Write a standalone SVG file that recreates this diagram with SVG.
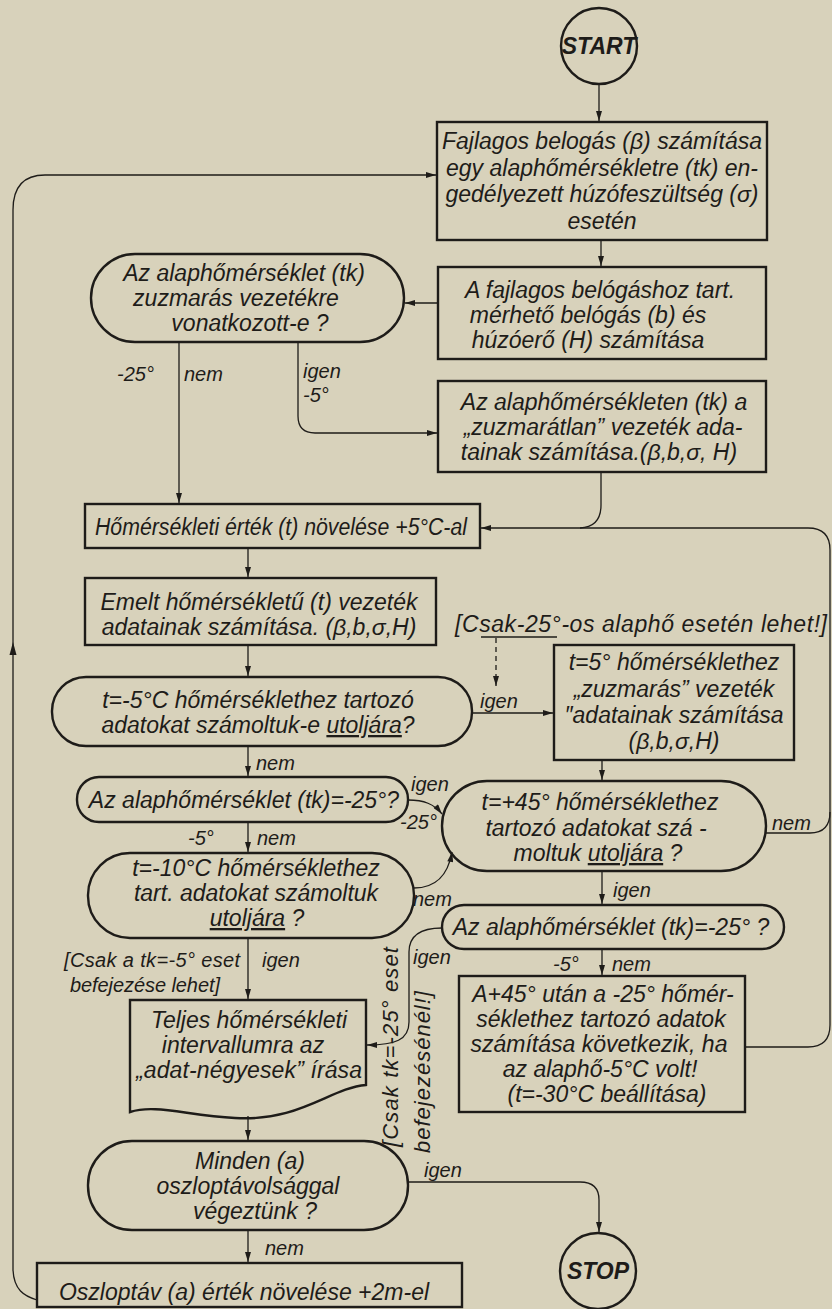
<svg xmlns="http://www.w3.org/2000/svg" width="832" height="1309" viewBox="0 0 832 1309">
<style>
.n{fill:none;stroke:#1e1c19;stroke-width:2.4}
.c{fill:none;stroke:#1e1c19;stroke-width:1.3}
.d{fill:none;stroke:#1e1c19;stroke-width:1.3;stroke-dasharray:5 4}
text{font-family:"Liberation Sans",Arial,sans-serif;font-style:italic;fill:#1e1c19}
.t{font-size:23px;text-anchor:middle}
.l{font-size:20px}
.r{font-size:22px;text-anchor:middle}
.b{font-size:23px;font-weight:bold;text-anchor:middle}
.u{text-decoration:underline}
</style>
<defs>
<marker id="a" viewBox="0 0 10 6" refX="10" refY="3" markerWidth="11" markerHeight="6" orient="auto" markerUnits="userSpaceOnUse"><path d="M0,0 L10,3 L0,6 z" fill="#1e1c19"/></marker>
</defs>
<rect width="832" height="1309" fill="#d8d2bb"/>

<g id="connectors">
<path class="c" d="M599,84 V121" marker-end="url(#a)"/>
<path class="c" d="M601,240 V266" marker-end="url(#a)"/>
<path class="c" d="M438,303 H405" marker-end="url(#a)"/>
<path class="c" d="M179,342 V503" marker-end="url(#a)"/>
<path class="c" d="M298,342 V416 Q298,433 315,433 H437" marker-end="url(#a)"/>
<path class="c" d="M601,472 V505 Q601,527 580,528"/>
<path class="c" d="M830,1025 V550 Q830,528 808,528 H481" marker-end="url(#a)"/>
<path class="c" d="M766,833 H810 Q830,833 830,812"/>
<path class="c" d="M745,1047 H808 Q830,1047 830,1025"/>
<path class="c" d="M248,548 V577" marker-end="url(#a)"/>
<path class="c" d="M248,645 V676" marker-end="url(#a)"/>
<path class="c" d="M472,713 H553" marker-end="url(#a)"/>
<path class="c" d="M481,637 H557"/>
<path class="d" d="M496,638 V686" marker-end="url(#a)"/>
<path class="c" d="M602,760 V780" marker-end="url(#a)"/>
<path class="c" d="M248,746 V776" marker-end="url(#a)"/>
<path class="c" d="M408,800 C424,800 434,804 442,814" marker-end="url(#a)"/>
<path class="c" d="M248,822 V852" marker-end="url(#a)"/>
<path class="c" d="M414,888 C436,888 448,875 452,852" marker-end="url(#a)"/>
<path class="c" d="M602,871 V904" marker-end="url(#a)"/>
<path class="c" d="M602,949 V975" marker-end="url(#a)"/>
<path class="c" d="M442,928 C420,928 409,936 409,952 V1022 C409,1040 395,1045 367,1045" marker-end="url(#a)"/>
<path class="c" d="M248,938 V999" marker-end="url(#a)"/>
<path class="c" d="M248,1116 V1140" marker-end="url(#a)"/>
<path class="c" d="M408,1182 H580 Q599,1182 599,1200 V1232" marker-end="url(#a)"/>
<path class="c" d="M248,1230 V1262" marker-end="url(#a)"/>
<path class="c" d="M37,1300 C24,1296 14,1290 13,1270 V210 Q13,175 45,175 H436" marker-end="url(#a)"/>
<path d="M13,642 L9.5,655 L16.5,655 z" fill="#1e1c19"/>
</g>

<g id="start"><circle class="n" cx="599" cy="46" r="38"/><text class="b" x="599" y="54">START</text></g>

<g id="box1"><rect class="n" x="437" y="122" width="330" height="118"/>
<text class="t" x="602" y="149">Fajlagos belogás (β) számítása</text>
<text class="t" x="602" y="176">egy alaphőmérsékletre (tk) en-</text>
<text class="t" x="602" y="202">gedélyezett húzófeszültség (σ)</text>
<text class="t" x="602" y="229">esetén</text></g>

<g id="box2"><rect class="n" x="438" y="267" width="328" height="92"/>
<text class="t" x="600" y="298">A fajlagos belógáshoz tart.</text>
<text class="t" x="588" y="323">mérhető belógás (b) és</text>
<text class="t" x="588" y="348">húzóerő (H) számítása</text></g>

<g id="dec1"><rect class="n" x="91" y="254" width="313" height="88" rx="44"/>
<text class="t" x="244" y="281">Az alaphőmérséklet (tk)</text>
<text class="t" x="236" y="306">zuzmarás vezetékre</text>
<text class="t" x="250" y="331">vonatkozott-e ?</text></g>

<g id="box3"><rect class="n" x="438" y="381" width="328" height="91"/>
<text class="t" x="604" y="410">Az alaphőmérsékleten (tk) a</text>
<text class="t" x="603" y="435">„zuzmarátlan” vezeték ada-</text>
<text class="t" x="599" y="460">tainak számítása.(β,b,σ, H)</text></g>

<g id="hom"><rect class="n" x="85" y="504" width="395" height="44"/>
<text class="t" x="281" y="535" textLength="372" lengthAdjust="spacingAndGlyphs">Hőmérsékleti érték (t) növelése +5°C-al</text></g>

<g id="emelt"><rect class="n" x="85" y="578" width="351" height="67"/>
<text class="t" x="259" y="610">Emelt hőmérsékletű (t) vezeték</text>
<text class="t" x="259" y="635">adatainak számítása. (β,b,σ,H)</text></g>

<g id="note1"><text class="t" x="641" y="632" textLength="372">[Csak-25°-os alaphő esetén lehet!]</text></g>

<g id="dec2"><rect class="n" x="52" y="677" width="420" height="69" rx="34"/>
<text class="t" x="258" y="708">t=-5°C hőmérséklethez tartozó</text>
<text class="t" x="258" y="733">adatokat számoltuk-e <tspan class="u">utoljára</tspan>?</text></g>

<g id="box5"><rect class="n" x="554" y="645" width="240" height="115"/>
<text class="t" x="674" y="670">t=5° hőmérséklethez</text>
<text class="t" x="674" y="697">„zuzmarás” vezeték</text>
<text class="t" x="674" y="723">″adatainak számítása</text>
<text class="t" x="674" y="749">(β,b,σ,H)</text></g>

<g id="dec3"><rect class="n" x="77" y="777" width="331" height="45" rx="22"/>
<text class="t" x="244" y="808">Az alaphőmérséklet (tk)=-25°?</text></g>

<g id="dec45"><rect class="n" x="442" y="781" width="324" height="90" rx="45"/>
<text class="t" x="600" y="810">t=+45° hőmérséklethez</text>
<text class="t" x="596" y="836">tartozó adatokat szá -</text>
<text class="t" x="598" y="861">moltuk <tspan class="u">utoljára</tspan> ?</text></g>

<g id="dec10"><rect class="n" x="88" y="853" width="326" height="85" rx="42"/>
<text class="t" x="256" y="876">t=-10°C hőmérséklethez</text>
<text class="t" x="256" y="901">tart. adatokat számoltuk</text>
<text class="t" x="257" y="926"><tspan class="u">utoljára</tspan> ?</text></g>

<g id="dec4"><rect class="n" x="442" y="905" width="342" height="44" rx="22"/>
<text class="t" x="611" y="935">Az alaphőmérséklet (tk)=-25° ?</text></g>

<g id="box45"><rect class="n" x="459" y="976" width="286" height="136"/>
<text class="t" x="603" y="1002">A+45° után a -25° hőmér-</text>
<text class="t" x="601" y="1027">séklethez tartozó adatok</text>
<text class="t" x="599" y="1052">számítása következik, ha</text>
<text class="t" x="600" y="1077">az alaphő-5°C volt!</text>
<text class="t" x="607" y="1102">(t=-30°C beállítása)</text></g>

<g id="teljes"><path class="n" d="M130,1000 H366 V1085 C330,1088 300,1122 235,1118 C185,1115 155,1104 130,1112 Z"/>
<text class="t" x="249" y="1028">Teljes hőmérsékleti</text>
<text class="t" x="243" y="1053">intervallumra az</text>
<text class="t" x="249" y="1078" textLength="226">„adat-négyesek” írása</text></g>

<g id="minden"><rect class="n" x="88" y="1141" width="320" height="89" rx="44"/>
<text class="t" x="250" y="1169">Minden (a)</text>
<text class="t" x="248" y="1194">oszloptávolsággal</text>
<text class="t" x="255" y="1219">végeztünk ?</text></g>

<g id="oszl"><rect class="n" x="37" y="1263" width="425" height="44"/>
<text class="t" x="244" y="1300">Oszloptáv (a) érték növelése +2m-el</text></g>

<g id="stop"><circle class="n" cx="598" cy="1271" r="38"/><text class="b" x="598" y="1279">STOP</text></g>

<g id="labels">
<text class="l" x="117" y="381">-25°</text>
<text class="l" x="184" y="381">nem</text>
<text class="l" x="303" y="378">igen</text>
<text class="l" x="303" y="402">-5°</text>
<text class="l" x="480" y="708">igen</text>
<text class="l" x="256" y="770">nem</text>
<text class="l" x="411" y="791">igen</text>
<text class="l" x="400" y="829">-25°</text>
<text class="l" x="188" y="845">-5°</text>
<text class="l" x="257" y="845">nem</text>
<text class="l" x="413" y="906">nem</text>
<text class="l" x="772" y="830">nem</text>
<text class="l" x="613" y="897">igen</text>
<text class="l" x="553" y="971">-5°</text>
<text class="l" x="612" y="971">nem</text>
<text class="l" x="64" y="967" textLength="176">[Csak a tk=-5° eset</text>
<text class="l" x="70" y="992" textLength="150">befejezése lehet]</text>
<text class="l" x="262" y="967">igen</text>
<text class="l" x="413" y="964">igen</text>
<text class="r" transform="translate(398,1047) rotate(-90)" textLength="200">[Csak tk=-25° eset</text>
<text class="r" transform="translate(430,1072) rotate(-90)" textLength="162">befejezésénél!]</text>
<text class="l" x="424" y="1177">igen</text>
<text class="l" x="265" y="1255">nem</text>
</g>
</svg>
